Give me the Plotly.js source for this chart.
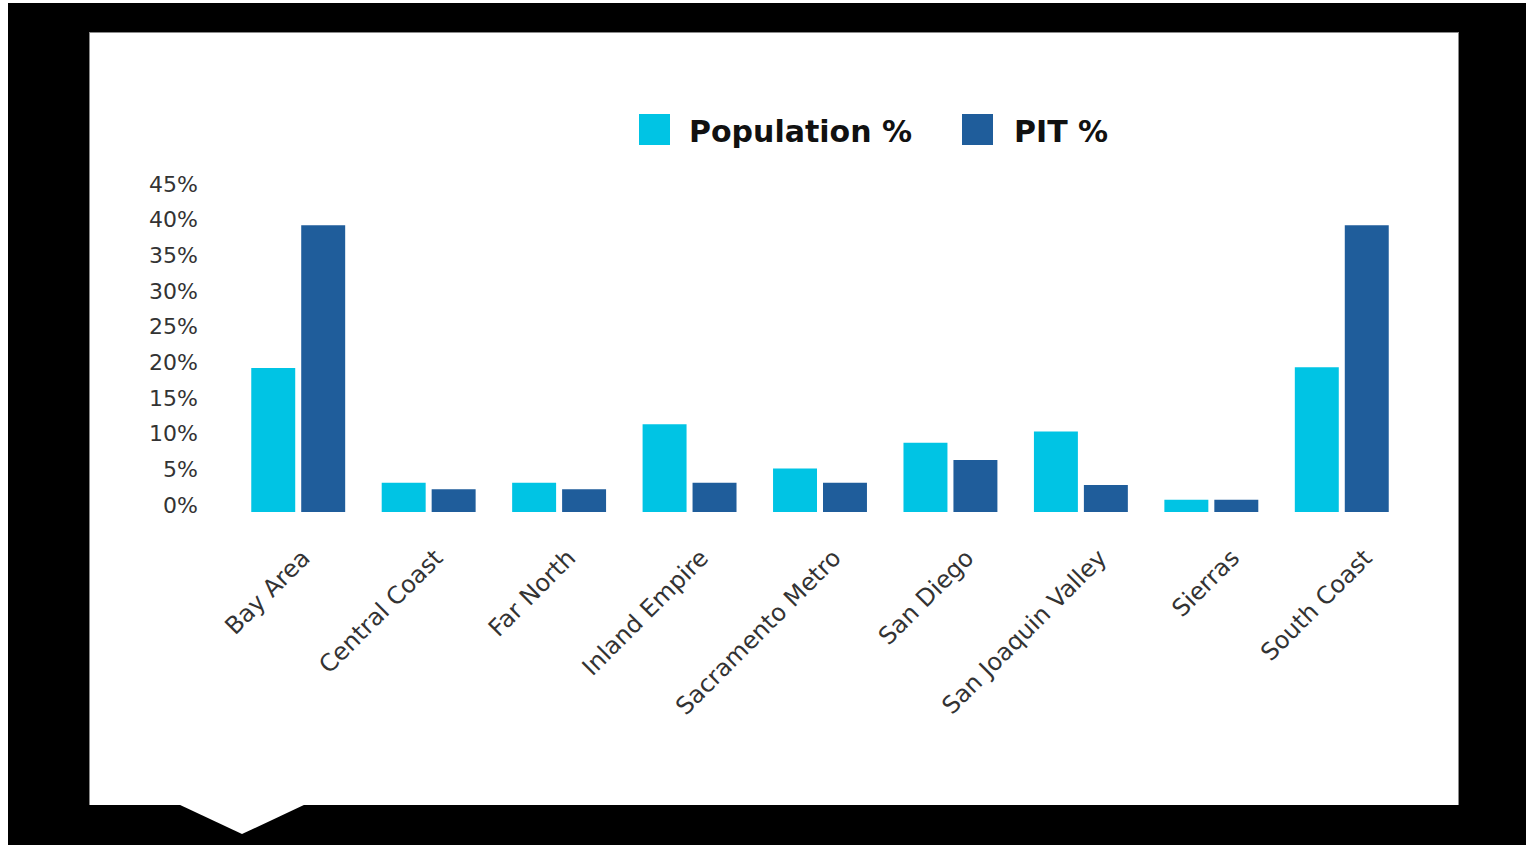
<!DOCTYPE html>
<html>
<head>
<meta charset="utf-8">
<script src="https://cdn.plot.ly/plotly-3.0.1.min.js"></script>
<style>
  html, body { margin: 0; padding: 0; background: #ffffff; width: 1526px; height: 845px; overflow: hidden; }
  #frame { position: absolute; left: 8px; top: 3px; width: 1518px; height: 842px; background: #000000; }
  #panel { position: absolute; left: 89px; top: 32px; width: 1368px; height: 772px; background: #ffffff; border: 1px solid #8a8a8a; border-bottom: none; }
  #notch { position: absolute; left: 178px; top: 804px; width: 128px; height: 30px; background: #ffffff;
           clip-path: polygon(0 0, 100% 0, 50% 100%); }
  #chart { position: absolute; left: 0; top: 0; width: 1526px; height: 845px; }
</style>
</head>
<body>
<div id="frame"></div>
<div id="panel"></div>
<div id="notch"></div>
<div id="chart"></div>
<script>
const categories = ["Bay Area", "Central Coast", "Far North", "Inland Empire", "Sacramento Metro",
                    "San Diego", "San Joaquin Valley", "Sierras", "South Coast"];
const populationPct = [20.2, 4.1, 4.1, 12.3, 6.1, 9.7, 11.3, 1.7, 20.3];
const pitPct = [40.2, 3.2, 3.2, 4.1, 4.1, 7.3, 3.8, 1.7, 40.2];
const seriesNames = ["Population %", "PIT %"];
const seriesColors = ["#00c4e4", "#1f5d9b"];
const yTickVals = [0, 5, 10, 15, 20, 25, 30, 35, 40, 45];
const yTickText = ["0%", "5%", "10%", "15%", "20%", "25%", "30%", "35%", "40%", "45%"];

const W = 1526, H = 845;
const M = { l: 233, r: 119, t: 191, b: 333 };
const plotW = W - M.l - M.r, plotH = H - M.t - M.b;
const px2x = px => (px - M.l) / plotW;
const px2y = py => (H - M.b - py) / plotH;

const traces = [
  { type: "bar", name: seriesNames[0], x: categories, y: populationPct,
    marker: { color: seriesColors[0] }, showlegend: false, hoverinfo: "skip" },
  { type: "bar", name: seriesNames[1], x: categories, y: pitPct,
    marker: { color: seriesColors[1] }, showlegend: false, hoverinfo: "skip" },
  // carrier for the rotated category labels (slightly wider spacing than bars, as in the original)
  { type: "scatter", mode: "markers", x: categories, y: populationPct, xaxis: "x2",
    marker: { opacity: 0, size: 1 }, showlegend: false, hoverinfo: "skip" }
];

// custom legend (large swatches)
const legendItems = [
  { sx0: 639, sx1: 670, tx: 687 },
  { sx0: 962, sx1: 993, tx: 1012 }
];
const shapes = legendItems.map((it, i) => ({
  type: "rect", xref: "paper", yref: "paper",
  x0: px2x(it.sx0), x1: px2x(it.sx1), y0: px2y(145), y1: px2y(114),
  fillcolor: seriesColors[i], line: { width: 0 }
}));
const annotations = legendItems.map((it, i) => ({
  xref: "paper", yref: "paper", x: px2x(it.tx), y: px2y(131),
  xanchor: "left", yanchor: "middle", showarrow: false,
  text: "<b>" + seriesNames[i] + "</b>",
  font: { family: "DejaVu Sans", size: 30, color: "#111111" }
}));

const layout = {
  width: W, height: H,
  margin: M,
  paper_bgcolor: "rgba(0,0,0,0)",
  plot_bgcolor: "rgba(0,0,0,0)",
  barmode: "group",
  bargap: 0.234,
  bargroupgap: 0.12,
  showlegend: false,
  xaxis: {
    type: "category",
    showticklabels: false,
    showgrid: false, zeroline: false, showline: false, ticks: ""
  },
  xaxis2: {
    type: "category",
    overlaying: "x",
    anchor: "y",
    side: "bottom",
    range: [-0.527, 8.316],
    tickangle: -45,
    tickfont: { family: "DejaVu Sans", size: 24, color: "#333333" },
    showgrid: false, zeroline: false, showline: false, ticks: "",
    ticklabelstandoff: 26
  },
  yaxis: {
    range: [0, 45],
    tickvals: yTickVals, ticktext: yTickText,
    tickfont: { family: "DejaVu Sans", size: 22, color: "#333333" },
    showgrid: false, zeroline: false, showline: false, ticks: "",
    ticklabelstandoff: 34,
    ticklabelshift: -7
  },
  shapes: shapes,
  annotations: annotations
};

Plotly.newPlot("chart", traces, layout, { displayModeBar: false, staticPlot: true });
</script>
</body>
</html>
